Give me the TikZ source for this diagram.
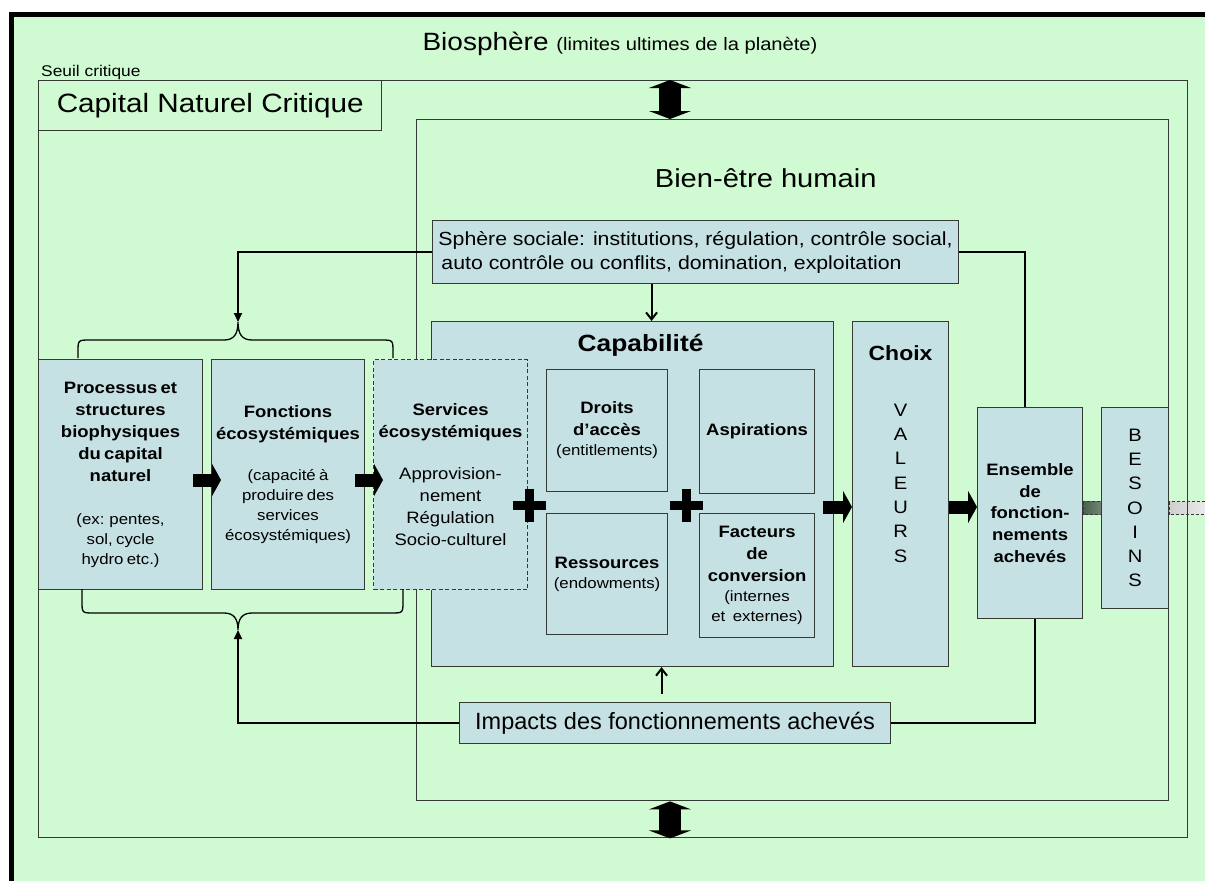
\documentclass[tikz,border=0pt]{standalone}
\usepackage{fontspec}
\setmainfont{Liberation Sans}[FakeStretch=1.12]
\newfontfamily\narrowfont{Liberation Sans}
\usetikzlibrary{arrows.meta}
\usetikzlibrary{positioning}
\usetikzlibrary{calc}
\usetikzlibrary{backgrounds}
\setlength{\parindent}{0pt}
\definecolor{biogreen}{RGB}{208,251,210}
\definecolor{boxblue}{RGB}{197,225,228}
\definecolor{linegray}{RGB}{52,58,52}
\definecolor{banddark}{RGB}{76,96,78}
\definecolor{bandmid}{RGB}{114,132,114}
\definecolor{bandlight}{RGB}{206,206,206}
\definecolor{bandpale}{RGB}{242,242,242}
\newcommand{\boxtitle}[1]{{\bfseries\fontsize{16.5}{22}\selectfont #1\par}}
\newcommand{\boxbody}[1]{{\fontsize{15}{20}\selectfont #1\par}}
\newcommand{\servbody}[1]{{\fontsize{16.5}{22}\selectfont #1\par}}

\begin{document}
\begin{tikzpicture}[
    x=1pt, y=-1pt,
    container/.style={rectangle, draw=linegray, line width=1.4pt, inner sep=0pt, anchor=north west},
    bluebox/.style={rectangle, draw=linegray, fill=boxblue, line width=1.1pt, inner sep=2pt,
                    anchor=north west, align=center},
    dashbluebox/.style={bluebox, dash pattern=on 4pt off 2.5pt},
    link/.style={line width=2pt},
    bracepath/.style={line width=1.3pt},
    fatarrow/.style={line width=13pt, -{Triangle[length=9pt,width=32pt]}},
    dblarrow/.style={line width=22pt, {Triangle[length=8pt,width=42pt]}-{Triangle[length=8pt,width=42pt]}},
    plussign/.style={line width=9pt},
    band/.style={draw=linegray, line width=0.8pt, dash pattern=on 3pt off 2pt}
  ]
  \useasboundingbox (0,0) rectangle (1205,881);
  \begin{scope}[on background layer]
    \fill[biogreen] (11.5,14.5) rectangle (1205,881);
    \draw[line width=5pt] (11.5,881) -- (11.5,14.5) -- (1205,14.5);
  \end{scope}

  \node (biotitle) [anchor=base] at (620,50)
    {\fontsize{25}{28}\selectfont Biosph\`ere {\fontsize{18}{20}\selectfont (limites ultimes de la plan\`ete)}};
  \node (seuil) [anchor=base west, inner sep=0pt, font=\fontsize{15.5}{18}\selectfont] at (41,76) {Seuil critique};

  \node (capcrit) [container, minimum width=1149pt, minimum height=757pt] at (38,80) {};
  \node (critlabel) [container, minimum width=343pt, minimum height=50pt,
                     font=\fontsize{26.5}{30}\selectfont] at (38,80) {Capital Naturel Critique};
  \node (bienetre) [container, minimum width=752pt, minimum height=681pt] at (416,119) {};
  \node (bientitle) [font=\fontsize{26}{30}\selectfont] at ($(bienetre.north)+(-27,59)$) {Bien-être humain};

  \node (sphere) [bluebox, minimum width=526pt, minimum height=63pt, align=left,
                  font=\fontsize{19}{24}\selectfont] at (432,220)
    {Sphère sociale: institutions, régulation, contrôle social,\\ \hspace*{3pt}auto contrôle ou conflits, domination, exploitation};

  \node (capab) [bluebox, minimum width=402pt, minimum height=345pt] at (431,321) {};
  \node (capabtitle) [font=\bfseries\fontsize{23.5}{26}\selectfont] at ($(capab.north)+(8,24)$) {Capabilité};

  \node (processus) [bluebox, minimum width=164pt, minimum height=230pt, text width=158pt] at (38,359)
    {\boxtitle{Processus et\\ structures\\ biophysiques\\ du capital\\ naturel}\vspace{23pt}\boxbody{(ex: pentes,\\ sol, cycle\\ hydro etc.)}};
  \node (fonctions) [bluebox, minimum width=153pt, minimum height=230pt, text width=148pt] at (211,359)
    {\boxtitle{Fonctions\\ écosystémiques}\vspace{21pt}\boxbody{(capacité à\\ produire des\\ services\\ écosystémiques)}};
  \node (services) [dashbluebox, minimum width=154pt, minimum height=230pt, text width=150pt] at (373,359)
    {\boxtitle{Services\\ écosystémiques}\vspace{20pt}\servbody{Approvision-\\ nement\\ Régulation\\ Socio-culturel}};

  \node (droits) [bluebox, minimum width=121pt, minimum height=122pt, text width=116pt] at (546,369)
    {\boxtitle{Droits\\ d’accès}\boxbody{(entitlements)}};
  \node (ressources) [bluebox, minimum width=121pt, minimum height=121pt, text width=116pt] at (546,513)
    {\boxtitle{Ressources}\boxbody{(endowments)}};
  \node (aspirations) [bluebox, minimum width=115pt, minimum height=124pt, text width=110pt] at (699,369)
    {\boxtitle{Aspirations}};
  \node (facteurs) [bluebox, minimum width=115pt, minimum height=124pt, text width=110pt] at (699,513)
    {\boxtitle{Facteurs\\ de\\ conversion}\boxbody{(internes\\ et\hspace{.5em}externes)}};

  \node (choix) [bluebox, minimum width=96pt, minimum height=345pt] at (852,321) {};
  \node (choixtitle) [font=\bfseries\fontsize{20.5}{24}\selectfont] at ($(choix.north)+(0,32)$) {Choix};
  \node (valeurs) [align=center, font=\fontsize{18}{24.3}\selectfont] at ($(choix.north)+(0,162)$) {V\\A\\L\\E\\U\\R\\S};

  \node (ensemble) [bluebox, minimum width=105pt, minimum height=211pt, text width=100pt] at (977,407)
    {{\bfseries\fontsize{16.5}{21.8}\selectfont Ensemble\\ de\\ fonction-\\ nements\\ achevés\par}\vspace{20pt}};
  \node (besoins) [bluebox, minimum width=67pt, minimum height=201pt,
                   font=\fontsize{18}{24.2}\selectfont] at (1101,407) {B\\E\\S\\O\\I\\N\\S};

  \node (impacts) [bluebox, minimum width=431pt, minimum height=41pt,
                   font=\narrowfont\fontsize{23.5}{26}\selectfont] at (459,702) {Impacts des fonctionnements achevés};

  \begin{scope}[on background layer]
    \path[band, left color=banddark, right color=bandmid]
      ($(ensemble.east |- besoins.west)+(0,-6.5)$) rectangle ($(besoins.west)+(0,6.5)$);
    \path[band, left color=bandlight, right color=bandpale]
      ($(besoins.east)+(0,-6.5)$) rectangle ($(besoins.east)+(45,6.5)$);
  \end{scope}

  \coordinate (dblx) at (670,0);
  \draw[dblarrow] (capcrit.north -| dblx) -- (bienetre.north -| dblx);
  \draw[dblarrow] (bienetre.south -| dblx) -- (capcrit.south -| dblx);

  \coordinate (bracetop) at (238,322);
  \coordinate (bracebot) at (238,630);
  \draw[bracepath] (78,358) -- (78,352) .. controls (78,340) .. (90,340) -- (224,340)
    .. controls (234,340) and (238,334) .. (bracetop) .. controls (238,334) and (242,340) .. (252,340)
    -- (381,340) .. controls (393,340) .. (393,352) -- (393,358);
  \draw[bracepath] (82,589) -- (82,601) .. controls (82,613) .. (94,613) -- (224,613)
    .. controls (234,613) and (238,619) .. (bracebot) .. controls (238,619) and (242,613) .. (252,613)
    -- (391,613) .. controls (403,613) .. (403,601) -- (403,589);

  \coordinate (socdown) at ([xshift=-44pt]sphere.south);
  \coordinate (impup) at ([xshift=-13.5pt,yshift=8pt]impacts.north);
  \draw[link, -{Triangle[length=9pt,width=8pt]}] (sphere.west) -| (bracetop);
  \draw[link] (sphere.east) -| ([xshift=-5pt]ensemble.north);
  \draw[link, -{Straight Barb[length=7pt,width=11pt,line width=2pt]}] (socdown) -- (socdown |- capab.north);
  \draw[link, -{Triangle[length=9pt,width=8pt]}] (impacts.west) -| (bracebot);
  \draw[link] (impacts.east) -| ([xshift=4.5pt]ensemble.south);
  \draw[link, -{Straight Barb[length=7pt,width=11pt,line width=2pt]}] (impup) -- (impup |- capab.south);

  \coordinate (rowa) at (0,480);
  \coordinate (rowb) at (0,507);
  \draw[fatarrow] ($(processus.east |- rowa)+(-10,0)$) -- ($(fonctions.west |- rowa)+(10,0)$);
  \draw[fatarrow] ($(fonctions.east |- rowa)+(-10,0)$) -- ($(services.west |- rowa)+(10,0)$);
  \draw[fatarrow] ($(capab.east |- rowb)+(-11,0)$) -- (choix.west |- rowb);
  \draw[fatarrow] (choix.east |- rowb) -- (ensemble.west |- rowb);

  \coordinate (plusa) at (529,505);
  \coordinate (plusb) at (686,505);
  \foreach \p in {plusa,plusb}{
    \draw[plussign] ($(\p)+(-16.5,0)$) -- ($(\p)+(16.5,0)$);
    \draw[plussign] ($(\p)+(0,-16.5)$) -- ($(\p)+(0,16.5)$);
  }
\end{tikzpicture}
\end{document}
